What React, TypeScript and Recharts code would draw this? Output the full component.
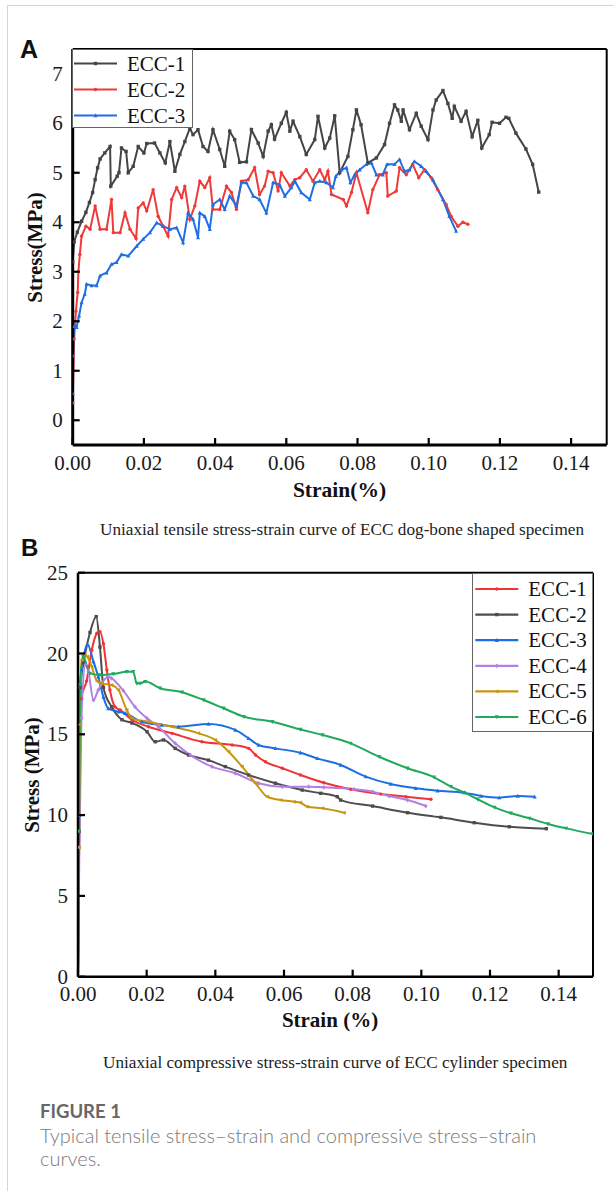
import React from 'react';
import { LineChart, Line, XAxis, YAxis, ReferenceLine, Legend } from 'recharts';

type Pt = [number, number];

// ---- Panel A: uniaxial tensile (strain %, stress MPa) ----
const tensileEcc1: Pt[] = [
  [0, 3.2], [0.0004, 3.6], [0.0013, 3.8], [0.0025, 4.02], [0.0037, 4.2], [0.0047, 4.4], [0.0056, 4.6],
  [0.0063, 4.86], [0.007, 5.1], [0.0077, 5.28], [0.009, 5.4], [0.0105, 5.53], [0.0107, 4.73], [0.0125, 4.93],
  [0.013, 5.0], [0.0137, 5.5], [0.015, 5.43], [0.0156, 5.0], [0.017, 5.13], [0.0184, 5.53], [0.02, 5.4],
  [0.0208, 5.59], [0.023, 5.6], [0.0245, 5.4], [0.026, 5.2], [0.0273, 5.63], [0.0287, 5.03], [0.0301, 5.37],
  [0.0315, 5.63], [0.0329, 5.9], [0.0338, 5.77], [0.0352, 5.87], [0.0366, 5.53], [0.038, 5.43], [0.0394, 5.87],
  [0.0413, 5.47], [0.0427, 5.13], [0.0441, 5.84], [0.0455, 5.67], [0.0469, 5.21], [0.0488, 5.22], [0.0502, 5.87],
  [0.0521, 5.6], [0.0535, 5.33], [0.0549, 5.84], [0.0558, 5.97], [0.0567, 5.68], [0.0586, 6.0], [0.06, 6.22],
  [0.061, 5.84], [0.0619, 6.04], [0.0638, 5.73], [0.0656, 5.37], [0.068, 5.67], [0.0689, 6.14], [0.0708, 5.5],
  [0.0722, 5.7], [0.0736, 6.15], [0.075, 5.0], [0.0773, 5.33], [0.0787, 5.87], [0.0797, 6.27], [0.081, 5.97],
  [0.0829, 5.2], [0.0853, 5.3], [0.0876, 5.57], [0.089, 6.0], [0.0904, 6.37], [0.0913, 6.27], [0.0923, 6.04],
  [0.0928, 6.27], [0.0946, 5.87], [0.0965, 6.2], [0.0979, 5.94], [0.0998, 5.67], [0.1012, 6.27], [0.1021, 6.47],
  [0.104, 6.66], [0.1054, 6.4], [0.1066, 6.1], [0.1072, 6.34], [0.1091, 6.04], [0.1105, 6.24], [0.1122, 5.73],
  [0.1138, 6.06], [0.1149, 5.5], [0.117, 5.77], [0.1178, 6.02], [0.1199, 6.0], [0.1217, 6.12], [0.1225, 6.1],
  [0.1245, 5.8], [0.1273, 5.48], [0.1292, 5.17], [0.1309, 4.61],
];

const tensileEcc2: Pt[] = [
  [0, 0.35], [0.0004, 1.64], [0.0009, 2.2], [0.0014, 2.58], [0.0016, 3.0], [0.002, 3.35], [0.0025, 3.72],
  [0.0037, 3.92], [0.0049, 3.86], [0.0063, 4.33], [0.0077, 3.86], [0.0095, 3.86], [0.0109, 4.46], [0.0114, 3.79],
  [0.0133, 3.79], [0.0147, 4.19], [0.0161, 3.86], [0.0178, 3.67], [0.0184, 4.29], [0.0198, 4.39], [0.0208, 4.23],
  [0.0226, 4.66], [0.024, 4.12], [0.0254, 3.92], [0.0268, 3.72], [0.0278, 4.46], [0.0292, 4.7], [0.0306, 4.5],
  [0.0315, 4.73], [0.0329, 4.06], [0.0343, 4.33], [0.0357, 4.83], [0.0371, 4.7], [0.0385, 4.9], [0.0394, 4.26],
  [0.0413, 4.26], [0.0432, 4.73], [0.0446, 4.6], [0.046, 4.26], [0.0474, 4.83], [0.0493, 4.86], [0.0511, 5.1],
  [0.0525, 4.56], [0.0539, 4.73], [0.0549, 5.03], [0.0563, 5.0], [0.0577, 4.63], [0.0586, 5.0], [0.061, 4.73],
  [0.0624, 4.86], [0.0638, 4.9], [0.0656, 5.06], [0.0675, 4.83], [0.0694, 5.06], [0.0708, 4.86], [0.0717, 5.03],
  [0.0727, 4.56], [0.076, 4.46], [0.0769, 4.33], [0.0783, 4.6], [0.0797, 5.0], [0.0829, 4.19], [0.0843, 4.66],
  [0.0862, 4.96], [0.0881, 5.0], [0.0885, 4.53], [0.0909, 4.63], [0.0918, 5.1], [0.0937, 4.96], [0.0955, 5.17],
  [0.0972, 4.9], [0.0988, 5.06], [0.1007, 4.9], [0.1025, 4.66], [0.1049, 4.36], [0.1063, 4.12], [0.1082, 3.92],
  [0.1096, 4.0], [0.111, 3.96],
];

const tensileEcc3: Pt[] = [
  [0, 0.54], [0.0001, 1.3], [0.0004, 1.9], [0.0011, 1.88], [0.0018, 2.11], [0.0025, 2.38], [0.0034, 2.55],
  [0.0039, 2.75], [0.0053, 2.72], [0.0067, 2.72], [0.0077, 2.92], [0.0095, 2.98], [0.0109, 3.15], [0.0123, 3.19],
  [0.0137, 3.35], [0.0156, 3.32], [0.018, 3.52], [0.0198, 3.66], [0.0217, 3.79], [0.0236, 3.99], [0.0254, 3.92],
  [0.0273, 3.86], [0.0292, 3.89], [0.031, 3.59], [0.0324, 4.19], [0.0338, 4.06], [0.0352, 3.69], [0.0357, 4.19],
  [0.0371, 4.12], [0.0385, 3.86], [0.0394, 4.36], [0.0413, 4.46], [0.0427, 4.26], [0.0441, 4.53], [0.046, 4.33],
  [0.0474, 4.8], [0.0488, 4.8], [0.0507, 4.53], [0.0525, 4.46], [0.0544, 4.19], [0.0563, 4.8], [0.0581, 4.76],
  [0.0596, 4.53], [0.0614, 4.7], [0.0624, 4.83], [0.0642, 4.6], [0.0666, 4.46], [0.068, 4.8], [0.0694, 4.83],
  [0.0713, 4.8], [0.0731, 4.7], [0.0739, 4.93], [0.0755, 5.06], [0.0769, 5.1], [0.078, 4.8], [0.0792, 4.96],
  [0.0806, 5.06], [0.0825, 5.17], [0.0839, 5.2], [0.0853, 4.96], [0.0871, 4.96], [0.0883, 5.17], [0.0904, 5.17],
  [0.0918, 5.27], [0.0932, 5.03], [0.0946, 5.06], [0.096, 5.23], [0.0979, 5.13], [0.0993, 5.03], [0.1012, 4.86],
  [0.104, 4.46], [0.1058, 4.12], [0.1077, 3.82],
];

// ---- Panel B: uniaxial compressive ----
const compEcc1: Pt[] = [
  [0, 0], [0.0004, 10], [0.0009, 17.2], [0.0025, 18.3], [0.004, 20.2], [0.0055, 21.25], [0.0064, 21.35],
  [0.0074, 20.6], [0.0084, 18.98], [0.0093, 17.74], [0.0108, 16.7], [0.0123, 16.5], [0.0157, 15.9], [0.0205, 15.47],
  [0.0274, 15.06], [0.0361, 14.54], [0.0449, 14.34], [0.0497, 14.13], [0.0517, 13.72], [0.0546, 13.3],
  [0.0595, 12.9], [0.0648, 12.48], [0.0716, 12.0], [0.0794, 11.6], [0.0882, 11.3], [0.0955, 11.14], [0.1028, 10.98],
];

const compEcc2: Pt[] = [
  [0, 0], [0.0003, 9], [0.0006, 17.9], [0.0016, 19.4], [0.0035, 21.3], [0.0053, 22.28], [0.0064, 20.4],
  [0.0074, 17.9], [0.0098, 16.7], [0.0128, 15.9], [0.0157, 15.7], [0.0201, 15.16], [0.0225, 14.54], [0.0249, 14.65],
  [0.0283, 14.13], [0.0322, 13.72], [0.038, 13.4], [0.0429, 13.0], [0.0497, 12.48], [0.0575, 11.97], [0.0653, 11.55],
  [0.0707, 11.35], [0.0755, 11.14], [0.0765, 10.93], [0.0858, 10.56], [0.096, 10.15], [0.1057, 9.86],
  [0.1154, 9.53], [0.1256, 9.28], [0.1364, 9.16],
];

const compEcc3: Pt[] = [
  [0, 0], [0.0004, 10], [0.0011, 19.0], [0.0028, 20.55], [0.0045, 19.5], [0.0059, 18.56], [0.0074, 17.3],
  [0.0088, 16.6], [0.0118, 16.4], [0.0137, 16.3], [0.0186, 15.78], [0.0244, 15.58], [0.0293, 15.47], [0.038, 15.64],
  [0.0458, 15.27], [0.0497, 14.75], [0.0526, 14.34], [0.0575, 14.13], [0.0648, 13.86], [0.0697, 13.51],
  [0.0765, 13.1], [0.0838, 12.38], [0.0911, 11.92], [0.0984, 11.66], [0.1047, 11.51], [0.1125, 11.39],
  [0.1174, 11.18], [0.1227, 11.08], [0.1281, 11.18], [0.133, 11.14],
];

const compEcc4: Pt[] = [
  [0, 0], [0.0004, 8], [0.001, 16], [0.0022, 19.3], [0.003, 18.9], [0.0045, 17.12], [0.0059, 17.74],
  [0.0088, 18.56], [0.0098, 18.46], [0.0132, 17.7], [0.0166, 16.7], [0.0201, 15.99], [0.0234, 15.47],
  [0.0283, 14.44], [0.0327, 13.72], [0.039, 13.0], [0.0458, 12.59], [0.0526, 11.97], [0.0595, 11.76],
  [0.0672, 11.76], [0.0716, 11.72], [0.0804, 11.6], [0.0858, 11.45], [0.0906, 11.18], [0.096, 10.93], [0.1013, 10.56],
];

const compEcc5: Pt[] = [
  [0, 0], [0.0003, 8], [0.0006, 15.6], [0.0011, 19.6], [0.002, 19.9], [0.0027, 19.8], [0.004, 19.18],
  [0.0055, 18.3], [0.0069, 18.15], [0.0098, 18.05], [0.0118, 17.74], [0.0142, 16.5], [0.0157, 15.99],
  [0.0205, 15.78], [0.0274, 15.47], [0.0351, 15.06], [0.04, 14.65], [0.0439, 13.92], [0.0478, 13.0],
  [0.0517, 11.97], [0.0551, 11.14], [0.059, 10.93], [0.0629, 10.83], [0.0648, 10.77], [0.0668, 10.52],
  [0.0712, 10.42], [0.0775, 10.15],
];

const compEcc6: Pt[] = [
  [0, 0], [0.0003, 9], [0.0006, 18.05], [0.0015, 19.8], [0.0035, 18.77], [0.0064, 18.67], [0.0103, 18.73],
  [0.0142, 18.87], [0.0161, 18.87], [0.0171, 18.15], [0.0181, 18.15], [0.0196, 18.26], [0.0239, 17.85],
  [0.0303, 17.6], [0.0366, 17.12], [0.0424, 16.61], [0.0483, 16.09], [0.0566, 15.78], [0.0648, 15.3],
  [0.0712, 14.96], [0.0794, 14.44], [0.0877, 13.61], [0.096, 12.9], [0.1037, 12.34], [0.1086, 11.76],
  [0.1125, 11.39], [0.1164, 10.98], [0.1213, 10.48], [0.1261, 10.11], [0.1315, 9.8], [0.1369, 9.45],
  [0.1422, 9.18], [0.15, 8.83],
];

const strainTicks = [0, 0.02, 0.04, 0.06, 0.08, 0.1, 0.12, 0.14];
const tensileStressTicks = [0, 1, 2, 3, 4, 5, 6, 7];
const compStressTicks = [0, 5, 10, 15, 20, 25];

type Shape = 'square' | 'circle' | 'up' | 'down' | 'diamond' | 'left';
interface Series { name: string; data: Pt[]; color: string; shape: Shape }

const tensileSeries: Series[] = [
  { name: 'ECC-1', data: tensileEcc1, color: '#454545', shape: 'square' },
  { name: 'ECC-2', data: tensileEcc2, color: '#ef3a3a', shape: 'circle' },
  { name: 'ECC-3', data: tensileEcc3, color: '#1f6fe3', shape: 'up' },
];

const compSeries: Series[] = [
  { name: 'ECC-1', data: compEcc1, color: '#f03434', shape: 'circle' },
  { name: 'ECC-2', data: compEcc2, color: '#4d4d4d', shape: 'square' },
  { name: 'ECC-3', data: compEcc3, color: '#1b6fe2', shape: 'up' },
  { name: 'ECC-4', data: compEcc4, color: '#b27fe4', shape: 'diamond' },
  { name: 'ECC-5', data: compEcc5, color: '#c8960e', shape: 'left' },
  { name: 'ECC-6', data: compEcc6, color: '#21a95c', shape: 'down' },
];

const serif = '"Liberation Serif", "Times New Roman", serif';
const sans = 'Lato, "Open Sans", sans-serif';

const Marker = ({ shape, cx, cy, color, s }: { shape: Shape; cx: number; cy: number; color: string; s: number }) => {
  switch (shape) {
    case 'square':
      return <rect x={cx - s} y={cy - s} width={2 * s} height={2 * s} fill={color} />;
    case 'circle':
      return <circle cx={cx} cy={cy} r={s} fill={color} />;
    case 'up':
      return <polygon points={`${cx},${cy - s * 1.3} ${cx - s * 1.2},${cy + s} ${cx + s * 1.2},${cy + s}`} fill={color} />;
    case 'down':
      return <polygon points={`${cx},${cy + s * 1.3} ${cx - s * 1.2},${cy - s} ${cx + s * 1.2},${cy - s}`} fill={color} />;
    case 'diamond':
      return <polygon points={`${cx},${cy - s * 1.4} ${cx + s * 1.1},${cy} ${cx},${cy + s * 1.4} ${cx - s * 1.1},${cy}`} fill={color} />;
    default:
      return <polygon points={`${cx - s * 1.3},${cy} ${cx + s},${cy - s * 1.2} ${cx + s},${cy + s * 1.2}`} fill={color} />;
  }
};

interface PanelCfg {
  height: number;
  margin: { top: number; right: number; bottom: number; left: number };
  yWidth: number;
  yDomain: [number, number];
  yTicks: number[];
  series: Series[];
  curve: 'linear' | 'monotone';
  axisWidth: number;
  frameWidth: number;
  legend: { left: number; top: number; w: number; h: number; first: number; row: number; lineX: [number, number]; textX: number };
  markerSize: number;
}

const LegendBox = ({ cfg }: { cfg: PanelCfg }) => {
  const L = cfg.legend;
  return (
    <svg width={L.w} height={L.h} style={{ display: 'block' }}>
      <rect x={0.5} y={0.5} width={L.w - 1} height={L.h - 1} fill="#fff" stroke="#666" strokeWidth={1} />
      {cfg.series.map((s, i) => {
        const cy = L.first + i * L.row;
        return (
          <g key={s.name}>
            <line x1={L.lineX[0]} y1={cy} x2={L.lineX[1]} y2={cy} stroke={s.color} strokeWidth={2.2} />
            <Marker shape={s.shape} cx={(L.lineX[0] + L.lineX[1]) / 2} cy={cy} color={s.color} s={cfg.markerSize} />
            <text x={L.textX} y={cy + 7} fontFamily={serif} fontSize={21} fill="#111">{s.name}</text>
          </g>
        );
      })}
    </svg>
  );
};

const Panel = ({ cfg }: { cfg: PanelCfg }) => {
  const xTick = (p: any) => (
    <g>
      <line x1={p.x} y1={p.y} x2={p.x} y2={p.y - 7} stroke="#000" strokeWidth={2.2} />
      <text x={p.x} y={p.y + 24.5} textAnchor="middle" fontFamily={serif} fontSize={21} fill="#1a1a1a">
        {Number(p.payload.value).toFixed(2)}
      </text>
    </g>
  );
  const yTick = (p: any) => (
    <g>
      <line x1={p.x} y1={p.y} x2={p.x + 7} y2={p.y} stroke="#000" strokeWidth={2.2} />
      <text x={p.x - 10} y={p.y + 7} textAnchor="end" fontFamily={serif} fontSize={21} fill="#1a1a1a">
        {p.payload.value}
      </text>
    </g>
  );
  return (
    <LineChart width={614} height={cfg.height} margin={cfg.margin}>
      <XAxis
        type="number"
        dataKey="x"
        domain={[0, 0.15]}
        ticks={strainTicks}
        interval={0}
        allowDataOverflow
        height={60}
        tickSize={0}
        tickMargin={0}
        tickLine={false}
        axisLine={{ stroke: '#000', strokeWidth: cfg.axisWidth }}
        tick={xTick}
      />
      <YAxis
        type="number"
        domain={cfg.yDomain}
        ticks={cfg.yTicks}
        interval={0}
        allowDataOverflow
        width={cfg.yWidth}
        tickSize={0}
        tickMargin={0}
        tickLine={false}
        axisLine={{ stroke: '#000', strokeWidth: cfg.axisWidth }}
        tick={yTick}
      />
      <ReferenceLine y={cfg.yDomain[1]} stroke="#000" strokeWidth={cfg.frameWidth} ifOverflow="visible" />
      <ReferenceLine x={0.15} stroke="#000" strokeWidth={cfg.frameWidth} ifOverflow="visible" />
      {cfg.series.map((s) => (
        <Line
          key={s.name}
          name={s.name}
          data={s.data.map(([x, y]) => ({ x, y }))}
          dataKey="y"
          type={cfg.curve}
          stroke={s.color}
          strokeWidth={2}
          isAnimationActive={false}
          activeDot={false}
          dot={(p: any) =>
            p.cx == null ? <g key={`${s.name}-${p.index}`} /> : (
              <Marker key={`${s.name}-${p.index}`} shape={s.shape} cx={p.cx} cy={p.cy} color={s.color} s={cfg.markerSize} />
            )
          }
        />
      ))}
      <Legend
        layout="vertical"
        align="center"
        verticalAlign="middle"
        wrapperStyle={{ left: cfg.legend.left, top: cfg.legend.top, width: cfg.legend.w, height: cfg.legend.h }}
        content={() => <LegendBox cfg={cfg} />}
      />
    </LineChart>
  );
};

const panelA: PanelCfg = {
  height: 520,
  margin: { top: 49, right: 7.3, bottom: 15, left: 0 },
  yWidth: 72.7,
  yDomain: [-0.5, 7.5],
  yTicks: tensileStressTicks,
  series: tensileSeries,
  curve: 'linear',
  axisWidth: 3,
  frameWidth: 2,
  legend: { left: 72, top: 49, w: 121, h: 79, first: 14.5, row: 26, lineX: [2, 45], textX: 55 },
  markerSize: 1.7,
};

const panelB: PanelCfg = {
  height: 500,
  margin: { top: 32.7, right: 21, bottom: 3.3, left: 0 },
  yWidth: 78,
  yDomain: [0, 25],
  yTicks: compStressTicks,
  series: compSeries,
  curve: 'monotone',
  axisWidth: 2.5,
  frameWidth: 2,
  legend: { left: 471.7, top: 32.7, w: 121.3, h: 159, first: 16, row: 25.6, lineX: [3.3, 46.3], textX: 56.3 },
  markerSize: 1.7,
};

export default function App() {
  return (
    <div style={{ position: 'absolute', left: 0, top: 0, width: 614, height: 1191, background: '#fff', overflow: 'hidden' }}>
      <div
        style={{
          position: 'absolute', left: 7, top: 5, width: 700, height: 1300,
          borderLeft: '1px solid #d5d5d5', borderTop: '1px solid #d5d5d5',
        }}
      />
      <div style={{ position: 'absolute', left: 0, top: 0 }}>
        <Panel cfg={panelA} />
      </div>
      <div style={{ position: 'absolute', left: 0, top: 540 }}>
        <Panel cfg={panelB} />
      </div>
      <svg width={614} height={1191} style={{ position: 'absolute', left: 0, top: 0, pointerEvents: 'none' }}>
        <text x={20} y={58} fontFamily='"Liberation Sans", Arial, sans-serif' fontWeight={700} fontSize={25} fill="#111">A</text>
        <text x={21} y={556} fontFamily='"Liberation Sans", Arial, sans-serif' fontWeight={700} fontSize={24} fill="#111">B</text>
        <text transform="translate(41.5,247.5) rotate(-90)" textAnchor="middle" fontFamily={serif} fontWeight={700} fontSize={21} fill="#111">Stress(MPa)</text>
        <text transform="translate(38.5,775) rotate(-90)" textAnchor="middle" fontFamily={serif} fontWeight={700} fontSize={21} fill="#111">Stress (MPa)</text>
        <text x={339.5} y={496.5} textAnchor="middle" fontFamily={serif} fontWeight={700} fontSize={21.5} fill="#111">Strain(%)</text>
        <text x={330} y={1026.5} textAnchor="middle" fontFamily={serif} fontWeight={700} fontSize={21} fill="#111">Strain (%)</text>
        <text x={100} y={535} fontFamily={serif} fontSize={17.2} fill="#222">Uniaxial tensile stress-strain curve of ECC dog-bone shaped specimen</text>
        <text x={103} y={1068} fontFamily={serif} fontSize={17.2} fill="#222">Uniaxial compressive stress-strain curve of ECC cylinder specimen</text>
        <text x={40} y={1118} fontFamily={sans} fontWeight={700} fontSize={18.5} fill="#676767">FIGURE 1</text>
        <text x={40} y={1143} fontFamily={sans} fontWeight={300} fontSize={20} fill="#7a7a7a">Typical tensile stress–strain and compressive stress–strain</text>
        <text x={40} y={1166} fontFamily={sans} fontWeight={300} fontSize={20} fill="#7a7a7a">curves.</text>
      </svg>
    </div>
  );
}
